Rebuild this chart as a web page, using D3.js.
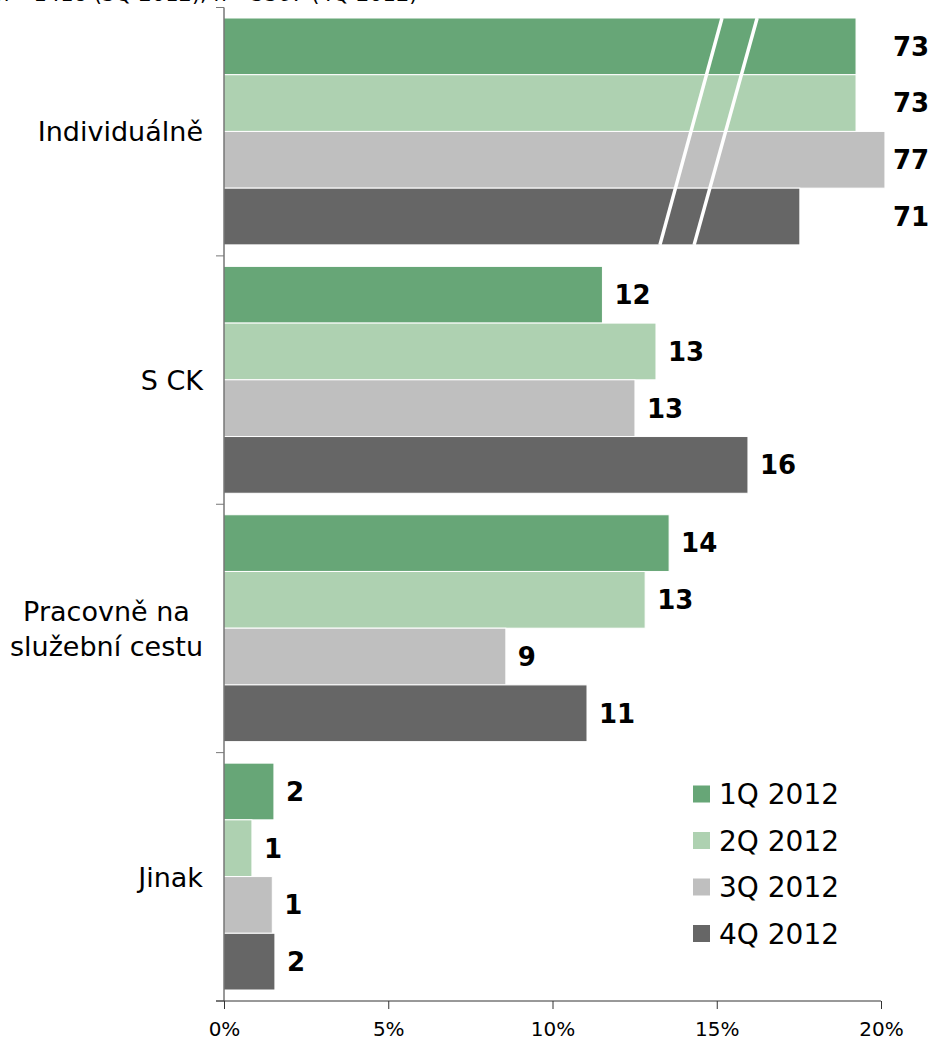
<!DOCTYPE html>
<html>
<head>
<meta charset="utf-8">
<script src="https://cdn.jsdelivr.net/npm/d3@7"></script>
<style>
  body { margin: 0; background: #fff; }
  text { font-family: "DejaVu Sans", Verdana, sans-serif; }
</style>
</head>
<body>
<div id="chart"></div>
<script>
// data
var categories = ["Individuálně", "S CK", "Pracovně na|služební cestu", "Jinak"];
var series = ["1Q 2012", "2Q 2012", "3Q 2012", "4Q 2012"];
var q1 = [73, 11.52, 13.55, 1.52];
var q2 = [73, 13.15, 12.82, 0.85];
var q3 = [77, 12.51, 8.58, 1.47];
var q4 = [71, 15.95, 11.05, 1.55];
// lengths drawn for the broken category (axis is cut between 13 and 16 %)
var brokenShown = [19.24, 19.24, 20.12, 17.53];
var breakTop = [15.16, 16.23];
var breakBottom = [13.27, 14.31];
var xTicks = [0, 5, 10, 15, 20];
var colors = ["#67a677", "#aed1b1", "#bfbfbf", "#666666"];
var note = "n= 1418 (3Q 2012), n= 3367 (4Q 2012)";

var values = [q1, q2, q3, q4];

var w = 932, h = 1042;
var plotLeft = 224, plotRight = 881, plotTop = 7.5, plotBottom = 1001;

var svg = d3.select("#chart").append("svg")
  .attr("width", w)
  .attr("height", h);

// cut-off note at the very top
svg.append("text")
  .attr("x", -4).attr("y", 1)
  .attr("font-size", 21)
  .text(note);

// Scales
var x = d3.scaleLinear().domain([0, 20]).range([plotLeft, plotRight]);
var y = d3.scaleBand().domain(d3.range(categories.length)).range([plotTop, plotBottom]);
var ys = d3.scaleBand().domain(d3.range(series.length))
  .range([10.5, y.bandwidth() - 11]);

// Bars
var rows = [];
categories.forEach(function(c, ci) {
  series.forEach(function(s, si) {
    var v = values[si][ci];
    rows.push({ c: ci, s: si, v: v, len: ci === 0 ? brokenShown[si] : v });
  });
});

svg.selectAll("rect.bar")
  .data(rows)
  .enter()
  .append("rect")
  .attr("class", "bar")
  .attr("x", x(0))
  .attr("y", function(d) { return y(d.c) + ys(d.s); })
  .attr("width", function(d) { return x(d.len) - x(0); })
  .attr("height", ys.bandwidth())
  .attr("fill", function(d) { return colors[d.s]; })
  .attr("stroke", "#fff")
  .attr("stroke-width", 1);

// break marks
breakTop.forEach(function(t, i) {
  svg.append("line")
    .attr("x1", x(t)).attr("y1", y(0) + ys(0))
    .attr("x2", x(breakBottom[i])).attr("y2", y(0) + ys(3) + ys.bandwidth())
    .attr("stroke", "#fff")
    .attr("stroke-width", 3.5);
});

// value labels
svg.selectAll("text.val")
  .data(rows)
  .enter()
  .append("text")
  .attr("class", "val")
  .attr("x", function(d) { return (d.c === 0 ? x(20) : x(d.len)) + 12; })
  .attr("y", function(d) { return y(d.c) + ys(d.s) + ys.bandwidth() / 2; })
  .attr("dy", "0.36em")
  .attr("font-size", 26)
  .attr("font-weight", "bold")
  .text(function(d) { return Math.round(d.v); });

// Y axis
svg.append("line")
  .attr("x1", plotLeft).attr("x2", plotLeft)
  .attr("y1", plotTop).attr("y2", plotBottom)
  .attr("stroke", "#333");
d3.range(categories.length + 1).forEach(function(i) {
  var yy = i < categories.length ? y(i) : plotBottom;
  svg.append("line")
    .attr("x1", plotLeft - 8).attr("x2", plotLeft)
    .attr("y1", yy).attr("y2", yy)
    .attr("stroke", "#777");
});

// category labels: block right-aligned, lines centred within it
categories.forEach(function(c, ci) {
  var lines = c.split("|");
  var cy = y(ci) + y.bandwidth() / 2;
  var g = svg.append("g");
  var texts = lines.map(function(l, li) {
    return g.append("text")
      .attr("y", cy + (li - (lines.length - 1) / 2) * 35)
      .attr("dy", "0.36em")
      .attr("text-anchor", "middle")
      .attr("font-size", 27)
      .text(l);
  });
  var maxW = d3.max(texts, function(t) { return t.node().getComputedTextLength(); });
  texts.forEach(function(t) { t.attr("x", 203 - maxW / 2); });
});

// X axis
var xAxis = svg.append("g")
  .attr("transform", "translate(0," + plotBottom + ")")
  .call(d3.axisBottom(x).tickValues(xTicks).tickSize(8).tickFormat(function(d) { return d + "%"; }));
xAxis.select(".domain").remove();
xAxis.append("line")
  .attr("x1", plotLeft - 8).attr("x2", plotRight)
  .attr("stroke", "#333");
xAxis.selectAll(".tick line").attr("stroke", "#333");
xAxis.selectAll(".tick text")
  .attr("font-family", "DejaVu Sans, Verdana, sans-serif")
  .attr("font-size", 20)
  .attr("fill", "#000")
  .attr("y", 21)
  .attr("dy", "0.71em");

// Legend
var legend = svg.append("g").attr("transform", "translate(693,794)");
series.forEach(function(s, i) {
  var g = legend.append("g").attr("transform", "translate(0," + (i * 46.5) + ")");
  g.append("rect")
    .attr("x", 0).attr("y", -8.5)
    .attr("width", 17).attr("height", 17)
    .attr("fill", colors[i]);
  g.append("text")
    .attr("x", 26).attr("y", 0)
    .attr("dy", "0.36em")
    .attr("font-size", 28)
    .text(s);
});
</script>
</body>
</html>
